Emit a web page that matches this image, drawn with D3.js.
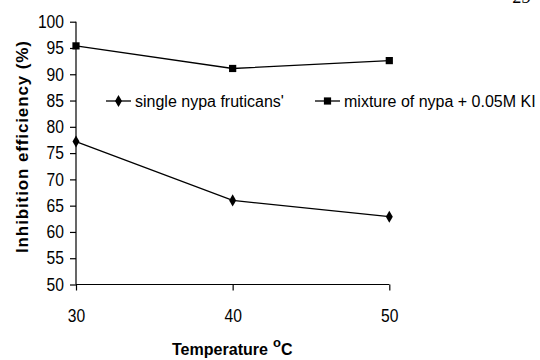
<!DOCTYPE html>
<html><head><meta charset="utf-8">
<script src="https://cdn.jsdelivr.net/npm/d3@7/dist/d3.min.js"></script>
<style>body{margin:0;background:#fff}svg{display:block}</style>
</head><body>
<svg id="c" width="540" height="360"></svg>
<script>
const temperatures = [30, 40, 50];
const singleNypa = [77.2, 66.0, 62.9];
const mixtureNypaKI = [95.4, 91.1, 92.6];
const yTicks = [50, 55, 60, 65, 70, 75, 80, 85, 90, 95, 100];
const seriesNames = ["single nypa fruticans'", "mixture of nypa + 0.05M KI"];

const svg = d3.select("#c");
const font = "Liberation Sans, Arial, sans-serif";
const x = d3.scaleLinear().domain([30, 50]).range([76, 389.3]);
const y = d3.scaleLinear().domain([50, 100]).range([284.5, 21.7]);

const yAxis = svg.append("g").attr("transform", "translate(76,0)")
  .call(d3.axisLeft(y).tickValues(yTicks).tickSize(6).tickPadding(6).tickFormat(d3.format("d")));
const xAxis = svg.append("g").attr("transform", "translate(0,284.5)")
  .call(d3.axisBottom(x).tickValues(temperatures).tickSize(6).tickPadding(19).tickFormat(d3.format("d")));
[yAxis, xAxis].forEach(a => {
  a.selectAll("path").attr("stroke", "#000").attr("stroke-width", 1.2);
  a.selectAll("line").attr("stroke", "#000").attr("stroke-width", 1.2);
  a.selectAll("text").attr("font-family", font).attr("font-size", 18).attr("fill", "#000")
    .attr("lengthAdjust", "spacingAndGlyphs")
    .attr("textLength", function () { return this.textContent.length * 8.7; });
});
yAxis.select(".domain").attr("d", "M0,21.7V284.5");
xAxis.select(".domain").attr("d", "M76,0H389.3");

const line = d3.line().x(d => x(d[0])).y(d => y(d[1]));
const diamond = d3.symbol().type(d3.symbolDiamond).size(42);
const square = d3.symbol().type(d3.symbolSquare).size(52);

function drawSeries(vals, sym) {
  const pts = temperatures.map((t, i) => [t, vals[i]]);
  svg.append("path").attr("d", line(pts)).attr("fill", "none").attr("stroke", "#000").attr("stroke-width", 1.3);
  svg.selectAll(null).data(pts).enter().append("path")
    .attr("d", sym).attr("transform", d => `translate(${x(d[0])},${y(d[1])})`).attr("fill", "#000");
}
drawSeries(singleNypa, diamond);
drawSeries(mixtureNypaKI, square);

// legend
const legend = [
  {x0: 106, sym: diamond, name: seriesNames[0]},
  {x0: 315, sym: square, name: seriesNames[1]}
];
legend.forEach(l => {
  svg.append("line").attr("x1", l.x0).attr("x2", l.x0 + 25).attr("y1", 101).attr("y2", 101).attr("stroke", "#000").attr("stroke-width", 1.3);
  svg.append("path").attr("d", l.sym).attr("transform", `translate(${l.x0 + 12.5},101)`).attr("fill", "#000");
  svg.append("text").attr("x", l.x0 + 29).attr("y", 107).attr("font-family", font).attr("font-size", 16).text(l.name);
});

// axis titles
svg.append("text").attr("transform", "translate(28,147) rotate(-90)").attr("text-anchor", "middle")
  .attr("font-family", font).attr("font-size", 17).attr("font-weight", "bold")
  .attr("lengthAdjust", "spacing").attr("textLength", 212)
  .text("Inhibition efficiency (%)");
const xt = svg.append("text").attr("x", 172).attr("y", 355)
  .attr("font-family", font).attr("font-size", 16).attr("font-weight", "bold");
xt.append("tspan").attr("lengthAdjust", "spacingAndGlyphs").attr("textLength", 96).text("Temperature");
xt.append("tspan").attr("dx", 5).attr("dy", -8).attr("font-size", 13).text("o");
xt.append("tspan").attr("dy", 8).text("C");

// page number fragment (cut off at the top edge, as in the reference)
svg.append("text").attr("x", 513).attr("y", 3).attr("font-family", "Liberation Serif, serif").attr("font-style", "italic").attr("font-size", 18).text("25");
</script>
</body></html>
